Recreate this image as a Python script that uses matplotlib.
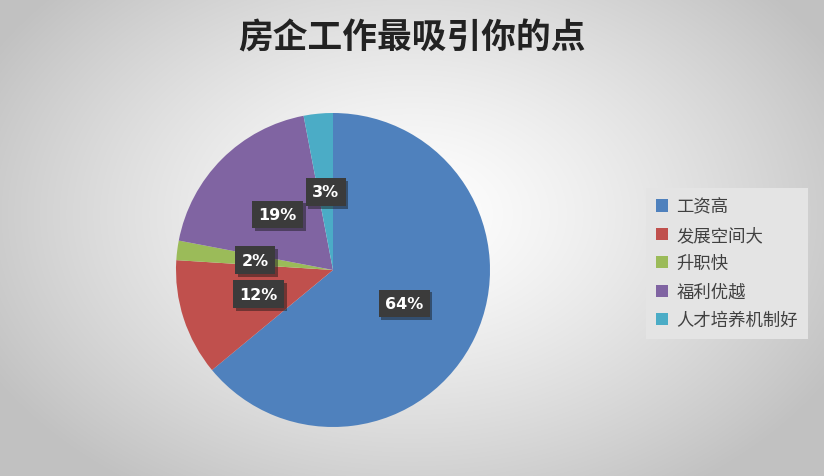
import numpy as np
import matplotlib
matplotlib.use("Agg")
import matplotlib.pyplot as plt
import matplotlib.patheffects as pe
from matplotlib.patches import Patch

plt.rcParams['font.family'] = ['Noto Sans CJK SC', 'DejaVu Sans']

title = "房企工作最吸引你的点"
categories = ["工资高", "发展空间大", "升职快", "福利优越", "人才培养机制好"]
values = [64, 12, 2, 19, 3]
colors = ["#4F81BD", "#C0504D", "#9BBB59", "#8064A2", "#4BACC6"]

W, H = 824, 477
fig = plt.figure(figsize=(W / 100, H / 100), dpi=100)

# radial gradient background
bg = fig.add_axes([0, 0, 1, 1])
yy, xx = np.mgrid[0:H, 0:W]
cx, cy = 412, 215
d = np.sqrt(((xx - cx) / 480.0) ** 2 + ((yy - cy) / 330.0) ** 2)
d = np.clip(d, 0, 1)
g = 1.0 - 0.24 * d ** 1.3
img = np.dstack([g, g, g])
bg.imshow(img, extent=[0, W, H, 0], aspect='auto')
bg.set_xlim(0, W)
bg.set_ylim(H, 0)
bg.axis('off')

# pie axes
pcx, pcy, r = 333, 271, 157
ax = fig.add_axes([(pcx - r) / W, (H - pcy - r) / H, 2 * r / W, 2 * r / H])
wedges, texts, autotexts = ax.pie(
    values, colors=colors, startangle=90, counterclock=False,
    autopct=lambda p: f"{p:.0f}%", pctdistance=0.5, radius=1,
    wedgeprops=dict(linewidth=0))
ax.set_xlim(-1, 1)
ax.set_ylim(-1, 1)
ax.set_aspect('equal')
ax.axis('off')
for t in autotexts:
    t.set_color('white')
    t.set_fontsize(11.5)
    t.set_fontweight('bold')
    t.set_fontfamily(['DejaVu Sans'])
    t.set_bbox(dict(boxstyle='square,pad=0.4', facecolor='#3b3b3b', edgecolor='none'))
    t.get_bbox_patch().set_path_effects([pe.SimplePatchShadow(offset=(2, -2), alpha=0.45), pe.Normal()])

fig.text(412 / W, 1 - 38 / H, title, ha='center', va='center', fontsize=25,
         fontweight='black', color='#222222')

handles = [Patch(facecolor=c, edgecolor='none') for c in colors]
leg = fig.legend(handles, categories, loc='upper left',
                 bbox_to_anchor=(646 / W, 1 - 189 / H), fontsize=12.5,
                 handlelength=0.7, handleheight=0.7, handletextpad=0.5,
                 labelspacing=0.6, borderpad=0.55, borderaxespad=0,
                 fancybox=False, frameon=True)
leg.get_frame().set_facecolor('#e4e4e4')
leg.get_frame().set_edgecolor('none')
leg.get_frame().set_alpha(1)
for t in leg.get_texts():
    t.set_color('#404040')

fig.savefig('out.png', dpi=100)
